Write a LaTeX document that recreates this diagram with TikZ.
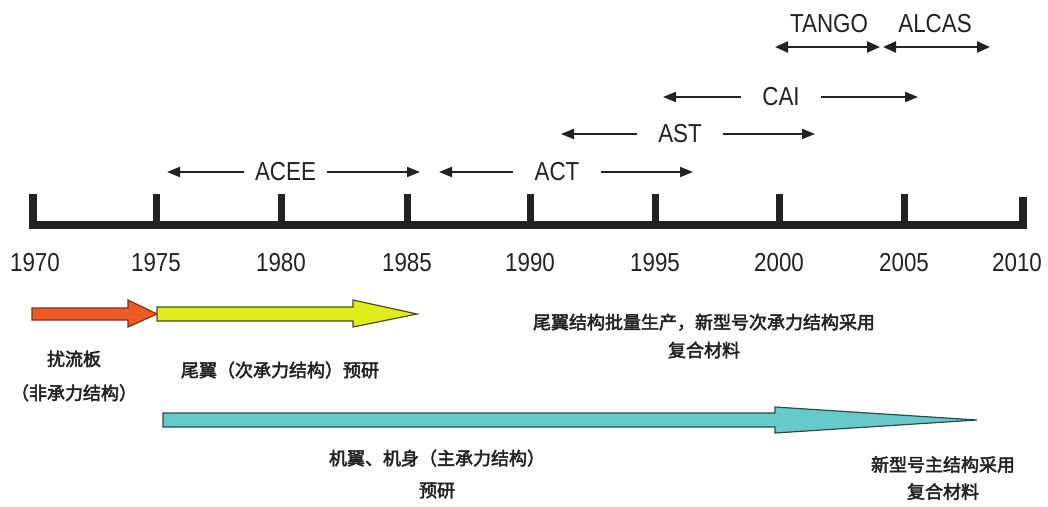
\documentclass[tikz,border=0pt]{standalone}
\usepackage{fontspec}
\setmainfont{Liberation Sans}[FakeStretch=0.86]
\newfontfamily\cjk{Noto Sans CJK SC}[FakeBold=2.6]
\usetikzlibrary{arrows.meta}
\definecolor{ink}{HTML}{222222}
\definecolor{redfill}{HTML}{EE5A24}
\definecolor{redline}{HTML}{7A3418}
\definecolor{yelfill}{HTML}{E0EC1C}
\definecolor{yelline}{HTML}{4A4E16}
\definecolor{tealfill}{HTML}{66CACA}
\definecolor{tealline}{HTML}{2E4A4A}
\begin{document}
\begin{tikzpicture}[x=1pt,y=-1pt,
  yr/.style={font=\fontsize{26}{26}\selectfont, text=ink, inner sep=0pt},
  prog/.style={font=\fontsize{26}{26}\selectfont, text=ink, inner ysep=0pt, inner xsep=#1},
  prog/.default=21pt,
  spanline/.style={line width=2pt, draw=ink, -{Triangle[length=13pt,width=10pt]}},
  dspan/.style={line width=2.4pt, draw=ink, {Triangle[length=13pt,width=11pt]}-{Triangle[length=13pt,width=11pt]}},
  cn/.style={font=\cjk\fontsize{18}{#1}\selectfont, text=ink, align=center, inner sep=0pt},
  cn/.default=30pt,
  bigarrow/.style={line width=1.2pt, line join=miter}
]
\useasboundingbox (0,0) rectangle (1048,506);
\fill[white] (0,0) rectangle (1048,506);

% axis
\draw[line width=8pt, draw=ink, line join=miter] (33,194) -- (33,225) -- (1023,225) -- (1023,197);
\foreach \x in {156,281,407,530,655,779,904}
  \draw[line width=7pt, draw=ink] (\x,194) -- (\x,225);

% year labels
\node[yr] (y1970) at (35,263) {1970};
\node[yr] (y1975) at (156,263) {1975};
\node[yr] (y1980) at (281,263) {1980};
\node[yr] (y1985) at (407,263) {1985};
\node[yr] (y1990) at (530,263) {1990};
\node[yr] (y1995) at (655,263) {1995};
\node[yr] (y2000) at (779,263) {2000};
\node[yr] (y2005) at (904,263) {2005};
\node[yr] (y2010) at (1017,263) {2010};

% programme spans
\node[prog=11pt] (acee) at (285.5,172) {ACEE};
\coordinate (aceeL) at (167,172); \coordinate (aceeR) at (420,172);
\draw[spanline] (acee.west) -- (aceeL);
\draw[spanline] (acee.east) -- (aceeR);

\node[prog] (act) at (557,172) {ACT};
\coordinate (actL) at (439,172); \coordinate (actR) at (693,172);
\draw[spanline] (act.west) -- (actL);
\draw[spanline] (act.east) -- (actR);

\node[prog] (ast) at (680,134) {AST};
\coordinate (astL) at (561,134); \coordinate (astR) at (815,134);
\draw[spanline] (ast.west) -- (astL);
\draw[spanline] (ast.east) -- (astR);

\node[prog] (cai) at (781,97) {CAI};
\coordinate (caiL) at (663,97); \coordinate (caiR) at (918,97);
\draw[spanline] (cai.west) -- (caiL);
\draw[spanline] (cai.east) -- (caiR);

\node[prog=0pt] (tango) at (829,24) {TANGO};
\coordinate (tangoL) at (775,47); \coordinate (tangoR) at (880,47);
\draw[dspan] (tangoL) -- (tangoR);

\node[prog=0pt] (alcas) at (935,24) {ALCAS};
\coordinate (alcasL) at (883,47); \coordinate (alcasR) at (990,47);
\draw[dspan] (alcasL) -- (alcasR);

% coloured development arrows
\filldraw[bigarrow, fill=redfill, draw=redline]
  (32,308) -- (128,308) -- (128,300) -- (157,314) -- (128,327) -- (128,320) -- (32,320) -- cycle;
\filldraw[bigarrow, fill=yelfill, draw=yelline]
  (157,307) -- (353,307) -- (353,300) -- (417,314) -- (353,327) -- (353,321) -- (157,321) -- cycle;
\filldraw[bigarrow, fill=tealfill, draw=tealline]
  (163,413) -- (775,413) -- (775,407) -- (977,420) -- (775,433) -- (775,427) -- (163,427) -- cycle;

% Chinese labels
\node[cn=34pt] (spoiler) at (74,376) {扰流板\\（非承力结构）};
\node[cn] (tail) at (280,370) {尾翼（次承力结构）预研};
\node[cn=28pt] (prod) at (704,336) {尾翼结构批量生产，新型号次承力结构采用\\复合材料};
\node[cn=32pt] (wing) at (437,474) {机翼、机身（主承力结构）\\预研};
\node[cn=27pt] (main) at (943,478) {新型号主结构采用\\复合材料};
\end{tikzpicture}
\end{document}
